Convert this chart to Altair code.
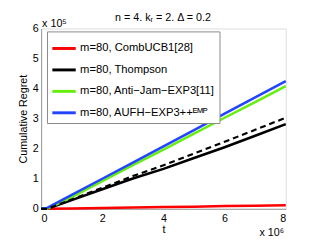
import altair as alt
import pandas as pd

t = [0, 0.2, 1, 2, 3, 4, 5, 6, 7, 8]
comb = [0, 0.0, 0.01, 0.03, 0.04, 0.06, 0.07, 0.09, 0.10, 0.12]
thompson = [0, 0.0, 0.29, 0.65, 1.01, 1.33, 1.69, 2.05, 2.43, 2.82]
thompson_dash = [0, 0.0, 0.31, 0.70, 1.09, 1.45, 1.84, 2.23, 2.63, 3.03]
antijam = [0, 0.0, 0.39, 0.92, 1.45, 1.97, 2.50, 3.03, 3.55, 4.08]
aufh = [0, 0.03, 0.46, 1.00, 1.54, 2.08, 2.62, 3.17, 3.71, 4.25]

names = ["m=80, CombUCB1[28]", "m=80, Thompson", "m=80, Anti\u2212Jam\u2212EXP3[11]",
         "m=80, AUFH\u2212EXP3++\u1d31\u1d39\u1d3e"]
colors = ["#ff0000", "#000000", "#66ee11", "#2244ff"]

rows = []
for name, vals in zip(names, [comb, thompson, antijam, aufh]):
    for tt, v in zip(t, vals):
        rows.append({"t": tt, "r": v, "series": name})
df = pd.DataFrame(rows)
dfd = pd.DataFrame({"t": t, "r": thompson_dash})

FONT = "Liberation Sans"

xs = alt.Scale(domain=[0, 8], nice=False)
ys = alt.Scale(domain=[0, 6], nice=False)

xax = alt.Axis(values=[0, 2, 4, 6, 8], title="t", grid=False, ticks=False,
               domainColor="#999999", labelColor="black", labelFontSize=11,
               labelFont=FONT, titleFont=FONT, titleFontSize=11, titleFontWeight="normal",
               labelPadding=4, titlePadding=0, labelOverlap=False)
yax = alt.Axis(values=[0, 1, 2, 3, 4, 5, 6], title="Cumulative Regret", grid=False, ticks=False,
               domainColor="#999999", labelColor="black", labelFontSize=11,
               labelFont=FONT, titleFont=FONT, titleFontSize=11, titleFontWeight="normal",
               labelPadding=3, titlePadding=4, labelOverlap=False)

lines = alt.Chart(df).mark_line(strokeWidth=2.6).encode(
    x=alt.X("t:Q", scale=xs, axis=xax),
    y=alt.Y("r:Q", scale=ys, axis=yax),
    color=alt.Color("series:N", scale=alt.Scale(domain=names, range=colors),
                    sort=names,
                    legend=alt.Legend(orient="none", legendX=6, legendY=3, title=None,
                                      symbolType="stroke", symbolSize=576, symbolStrokeWidth=3,
                                      labelFont=FONT, labelFontSize=11.5, labelOffset=3,
                                      fillColor="white", strokeColor="#888888",
                                      padding=4, rowPadding=2, labelLimit=300)),
    order="t:Q",
)

dash = alt.Chart(dfd).mark_line(strokeWidth=2.2, strokeDash=[6, 4], color="black").encode(
    x=alt.X("t:Q", scale=xs, axis=xax),
    y=alt.Y("r:Q", scale=ys, axis=yax),
    order="t:Q",
)

labels = ["n = 4. k\u1d63 = 2. \u0394 = 0.2", "x 10\u2075", "x 10\u2076"]
ann = pd.DataFrame({"label": labels})

title_txt = alt.Chart(ann.iloc[[0]]).mark_text(font=FONT, fontSize=11, align="center", baseline="middle").encode(
    x=alt.value(125), y=alt.value(-11), text="label:N")
e5 = alt.Chart(ann.iloc[[1]]).mark_text(font=FONT, fontSize=11, align="left", baseline="middle").encode(
    x=alt.value(1), y=alt.value(-5), text="label:N")
e6 = alt.Chart(ann.iloc[[2]]).mark_text(font=FONT, fontSize=11, align="left", baseline="middle").encode(
    x=alt.value(224), y=alt.value(210), text="label:N")

chart = alt.layer(lines, dash, title_txt, e5, e6).properties(
    width=251, height=185,
    autosize=alt.AutoSizeParams(type="none"),
    padding={"left": 34, "top": 18, "right": 30, "bottom": 30},
).configure_view(stroke=None).configure(font=FONT)

chart.save("out.html", embed_options={"renderer": "svg", "actions": False})
